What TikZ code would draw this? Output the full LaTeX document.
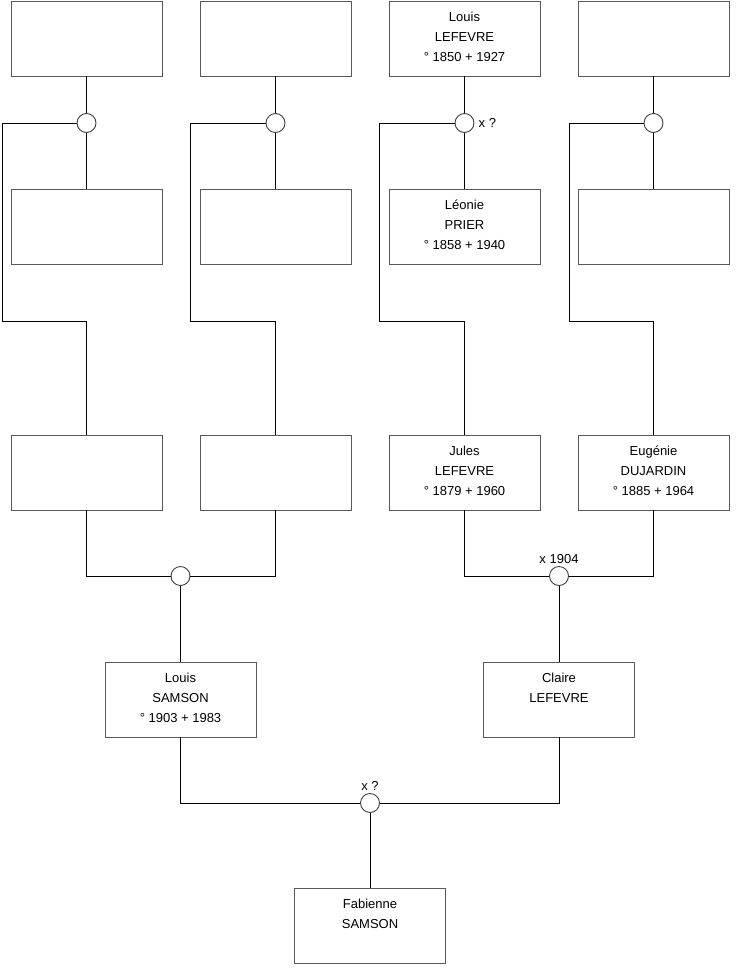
\documentclass[tikz,border=0pt]{standalone}
\usepackage{fontspec}
\setmainfont{Liberation Sans}
\usepackage{tikz}
\usetikzlibrary{positioning}

\begin{document}
\begin{tikzpicture}[
    x=1pt, y=-1pt,
    every node/.style={font=\fontsize{13}{20}\selectfont},
    person/.style={rectangle, draw=black!65, line width=0.9pt, minimum width=151pt, minimum height=75pt, inner sep=0pt,
        label={[anchor=north, align=center, yshift=-7.5pt]north:#1}},
    person/.default={},
    union/.style={circle, draw=black!75, line width=0.9pt, minimum size=19pt, inner sep=0pt, fill=white},
    link/.style={draw, line width=0.9pt},
    note/.style={inner sep=2pt},
]
    \useasboundingbox (0,0) rectangle (740,975);

    % great-grandparents
    \node[person] (ggp1) at (86.5,38.5) {};
    \node[person] (ggp2) at (275.5,38.5) {};
    \node[person={Louis\\LEFEVRE\\° 1850 + 1927}] (ggp3) at (464.5,38.5) {};
    \node[person] (ggp4) at (653.5,38.5) {};

    \node[person] (ggm1) at (86.5,227) {};
    \node[person] (ggm2) at (275.5,227) {};
    \node[person={Léonie\\PRIER\\° 1858 + 1940}] (ggm3) at (464.5,227) {};
    \node[person] (ggm4) at (653.5,227) {};

    \node[union] (u1) at (86.5,123) {};
    \node[union] (u2) at (275.5,123) {};
    \node[union] (u3) at (464.5,123) {};
    \node[union] (u4) at (653.5,123) {};
    \node[note, right=2pt of u3] (m3) {x ?};

    % grandparents
    \node[person] (gp1) at (86.5,472.5) {};
    \node[person] (gp2) at (275.5,472.5) {};
    \node[person={Jules\\LEFEVRE\\° 1879 + 1960}] (gp3) at (464.5,472.5) {};
    \node[person={Eugénie\\DUJARDIN\\° 1885 + 1964}] (gp4) at (653.5,472.5) {};

    \node[union] (u5) at (180.5,576) {};
    \node[union] (u6) at (559,576) {};
    \node[note, above=0pt of u6] (m6) {x 1904};

    % parents
    \node[person={Louis\\SAMSON\\° 1903 + 1983}] (dad) at (180.5,699.5) {};
    \node[person={Claire\\LEFEVRE}] (mum) at (559,699.5) {};

    \node[union] (u7) at (370,803) {};
    \node[note, above=0pt of u7] (m7) {x ?};

    \node[person={Fabienne\\SAMSON}] (me) at (370,926) {};

    \foreach \i in {1,...,4}{
        \draw[link] (ggp\i.south) -- (u\i.north);
        \draw[link] (u\i.south) -- (ggm\i.north);
    }
    \draw[link] (u1.west) -| (2,321) -| (gp1.north);
    \draw[link] (u2.west) -| (190,321) -| (gp2.north);
    \draw[link] (u3.west) -| (379,321) -| (gp3.north);
    \draw[link] (u4.west) -| (569,321) -| (gp4.north);

    \draw[link] (gp1.south) |- (u5.west);
    \draw[link] (gp2.south) |- (u5.east);
    \draw[link] (u5.south) -- (dad.north);
    \draw[link] (gp3.south) |- (u6.west);
    \draw[link] (gp4.south) |- (u6.east);
    \draw[link] (u6.south) -- (mum.north);

    \draw[link] (dad.south) |- (u7.west);
    \draw[link] (mum.south) |- (u7.east);
    \draw[link] (u7.south) -- (me.north);
\end{tikzpicture}
\end{document}
